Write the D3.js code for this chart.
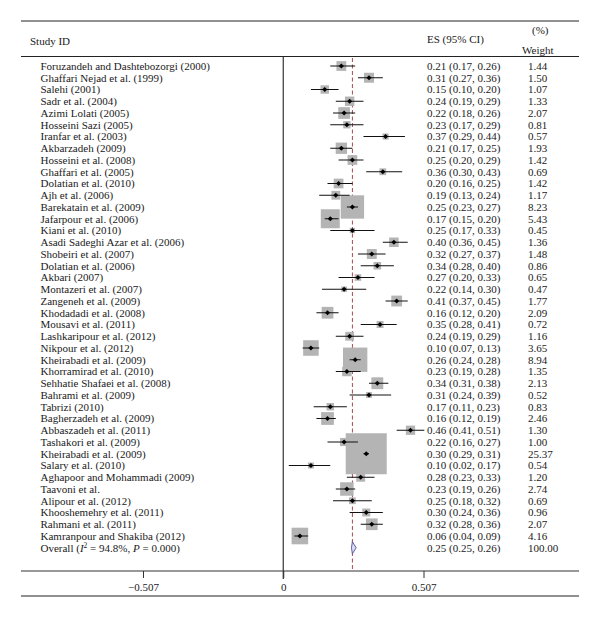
<!DOCTYPE html>
<html>
<head>
<meta charset="utf-8">
<script src="https://cdn.jsdelivr.net/npm/d3@7"></script>
<style>
  body { margin: 0; background: #fff; }
  text { font-family: "Liberation Serif", "DejaVu Serif", serif; fill: #1a1a1a; }
</style>
</head>
<body>
<div id="chart"></div>
<script>
// study rows, top to bottom
var studies = ["Foruzandeh and Dashtebozorgi (2000)", "Ghaffari Nejad et al. (1999)", "Salehi (2001)",
  "Sadr et al. (2004)", "Azimi Lolati (2005)", "Hosseini Sazi (2005)", "Iranfar et al. (2003)",
  "Akbarzadeh (2009)", "Hosseini et al. (2008)", "Ghaffari et al. (2005)", "Dolatian et al. (2010)",
  "Ajh et al. (2006)", "Barekatain et al. (2009)", "Jafarpour et al. (2006)", "Kiani et al. (2010)",
  "Asadi Sadeghi Azar et al. (2006)", "Shobeiri et al. (2007)", "Dolatian et al. (2006)", "Akbari (2007)",
  "Montazeri et al. (2007)", "Zangeneh et al. (2009)", "Khodadadi et al. (2008)", "Mousavi et al. (2011)",
  "Lashkaripour et al. (2012)", "Nikpour et al. (2012)", "Kheirabadi et al. (2009)", "Khorramirad et al. (2010)",
  "Sehhatie Shafaei et al. (2008)", "Bahrami et al. (2009)", "Tabrizi (2010)", "Bagherzadeh et al. (2009)",
  "Abbaszadeh et al. (2011)", "Tashakori et al. (2009)", "Kheirabadi et al. (2009)", "Salary et al. (2010)",
  "Aghapoor and Mohammadi (2009)", "Taavoni et al.", "Alipour et al. (2012)", "Khooshemehry et al. (2011)",
  "Rahmani et al. (2011)", "Kamranpour and Shakiba (2012)"];
var es = [0.21, 0.31, 0.15, 0.24, 0.22, 0.23, 0.37, 0.21, 0.25, 0.36, 0.20, 0.19, 0.25, 0.17, 0.25, 0.40, 0.32,
  0.34, 0.27, 0.22, 0.41, 0.16, 0.35, 0.24, 0.10, 0.26, 0.23, 0.34, 0.31, 0.17, 0.16, 0.46, 0.22, 0.30, 0.10,
  0.28, 0.23, 0.25, 0.30, 0.32, 0.06];
var lower = [0.17, 0.27, 0.10, 0.19, 0.18, 0.17, 0.29, 0.17, 0.20, 0.30, 0.16, 0.13, 0.23, 0.15, 0.17, 0.36, 0.27,
  0.28, 0.20, 0.14, 0.37, 0.12, 0.28, 0.19, 0.07, 0.24, 0.19, 0.31, 0.24, 0.11, 0.12, 0.41, 0.16, 0.29, 0.02,
  0.23, 0.19, 0.18, 0.24, 0.28, 0.04];
var upper = [0.26, 0.36, 0.20, 0.29, 0.26, 0.29, 0.44, 0.25, 0.29, 0.43, 0.25, 0.24, 0.27, 0.20, 0.33, 0.45, 0.37,
  0.40, 0.33, 0.30, 0.45, 0.20, 0.41, 0.29, 0.13, 0.28, 0.28, 0.38, 0.39, 0.23, 0.19, 0.51, 0.27, 0.31, 0.17,
  0.33, 0.26, 0.32, 0.36, 0.36, 0.09];
var weights = [1.44, 1.50, 1.07, 1.33, 2.07, 0.81, 0.57, 1.93, 1.42, 0.69, 1.42, 1.17, 8.23, 5.43, 0.45, 1.36, 1.48,
  0.86, 0.65, 0.47, 1.77, 2.09, 0.72, 1.16, 3.65, 8.94, 1.35, 2.13, 0.52, 0.83, 2.46, 1.30, 1.00, 25.37, 0.54,
  1.20, 2.74, 0.69, 0.96, 2.07, 4.16];
var overall = { es: 0.25, lower: 0.25, upper: 0.26, weight: 100.00 };
var xTicks = [-0.507, 0, 0.507];

var width = 600, height = 617;
var left = 21, right = 579;

var svg = d3.select("#chart").append("svg")
  .attr("width", width)
  .attr("height", height);

var x = d3.scaleLinear().domain([-0.507, 0.507]).range([143, 423.5]);
var y = d3.scaleLinear().domain([0, studies.length]).range([66, 547.75]);
var side = d3.scaleSqrt().domain([0, 25.37]).range([0, 41]);
var f2 = d3.format(".2f");

var rows = studies.map(function (s, i) {
  return { name: s, es: es[i], lo: lower[i], hi: upper[i], w: weights[i], i: i };
});

// header
svg.append("line").attr("x1", left).attr("x2", right).attr("y1", 21).attr("y2", 21)
  .attr("stroke", "#222").attr("stroke-width", 1.2);
svg.append("line").attr("x1", left).attr("x2", right).attr("y1", 56.5).attr("y2", 56.5)
  .attr("stroke", "#222").attr("stroke-width", 1);
svg.append("text").attr("x", 30).attr("y", 45).attr("font-size", 11).text("Study ID");
svg.append("text").attr("x", 427).attr("y", 43).attr("font-size", 11).text("ES (95% CI)");
svg.append("text").attr("x", 532).attr("y", 34).attr("font-size", 11).text("(%)");
svg.append("text").attr("x", 522).attr("y", 54).attr("font-size", 11).text("Weight");

// reference lines
svg.append("line").attr("x1", x(0)).attr("x2", x(0)).attr("y1", 56.5).attr("y2", 579)
  .attr("stroke", "#333").attr("stroke-width", 1.2);
svg.append("line").attr("x1", x(overall.es)).attr("x2", x(overall.es)).attr("y1", 58).attr("y2", 571)
  .attr("stroke", "#a3313c").attr("stroke-width", 0.9).attr("stroke-dasharray", "4,2.5");

// boxes, CI and points
var g = svg.append("g");
g.selectAll(".box").data(rows).enter().append("rect")
  .attr("class", "box")
  .attr("x", function (d) { return x(d.es) - side(d.w) / 2; })
  .attr("y", function (d) { return y(d.i) - side(d.w) / 2; })
  .attr("width", function (d) { return side(d.w); })
  .attr("height", function (d) { return side(d.w); })
  .attr("fill", "#b4b4b4");

g.selectAll(".ci").data(rows).enter().append("line")
  .attr("class", "ci")
  .attr("x1", function (d) { return x(d.lo); })
  .attr("x2", function (d) { return x(d.hi); })
  .attr("y1", function (d) { return y(d.i); })
  .attr("y2", function (d) { return y(d.i); })
  .attr("stroke", "#111").attr("stroke-width", 1);

g.selectAll(".pt").data(rows).enter().append("path")
  .attr("class", "pt")
  .attr("transform", function (d) { return "translate(" + x(d.es) + "," + y(d.i) + ") rotate(45)"; })
  .attr("d", d3.symbol(d3.symbolSquare, 13))
  .attr("fill", "#000");

// overall diamond
var oy = y(studies.length);
svg.append("path")
  .attr("d", "M" + (x(overall.lower) - 1) + "," + oy + "L" + x(overall.es) + "," + (oy - 6) +
    "L" + (x(overall.upper) + 1) + "," + oy + "L" + x(overall.es) + "," + (oy + 6) + "Z")
  .attr("fill", "#dcdcf0").attr("stroke", "#5050a0").attr("stroke-width", 0.9);

// text columns
var t = svg.append("g").attr("font-size", 11);
t.selectAll(".name").data(rows).enter().append("text")
  .attr("x", 40.5).attr("y", function (d) { return y(d.i) + 3.8; })
  .text(function (d) { return d.name; });
t.selectAll(".es").data(rows).enter().append("text")
  .attr("x", 427).attr("y", function (d) { return y(d.i) + 3.8; })
  .text(function (d) { return f2(d.es) + " (" + f2(d.lo) + ", " + f2(d.hi) + ")"; });
t.selectAll(".wt").data(rows).enter().append("text")
  .attr("x", 528).attr("y", function (d) { return y(d.i) + 3.8; })
  .text(function (d) { return f2(d.w); });

var ol = t.append("text").attr("x", 40.5).attr("y", oy + 3.8);
ol.append("tspan").text("Overall (");
ol.append("tspan").attr("font-style", "italic").text("I");
ol.append("tspan").attr("font-size", 7.5).attr("dy", -4).text("2");
ol.append("tspan").attr("dy", 4).text(" = 94.8%, ");
ol.append("tspan").attr("font-style", "italic").text("P");
ol.append("tspan").text(" = 0.000)");
t.append("text").attr("x", 427).attr("y", oy + 3.8)
  .text(f2(overall.es) + " (" + f2(overall.lower) + ", " + f2(overall.upper) + ")");
t.append("text").attr("x", 528).attr("y", oy + 3.8).text(f2(overall.weight));

// bottom axis
svg.append("line").attr("x1", left).attr("x2", right).attr("y1", 571).attr("y2", 571)
  .attr("stroke", "#333").attr("stroke-width", 1);
var axis = svg.append("g").attr("transform", "translate(0,571)")
  .call(d3.axisBottom(x).tickValues(xTicks).tickSize(7).tickFormat(function (d) {
    return d === 0 ? "0" : (d < 0 ? "\u2212" : "") + Math.abs(d).toFixed(3);
  }));
axis.select(".domain").remove();
axis.selectAll("line").attr("stroke", "#333").attr("stroke-width", 1);
axis.selectAll("text").attr("font-size", 11).attr("font-family", "Liberation Serif, serif")
  .attr("fill", "#1a1a1a").attr("dy", "0.9em");
svg.append("line").attr("x1", left).attr("x2", right).attr("y1", 596).attr("y2", 596)
  .attr("stroke", "#222").attr("stroke-width", 1.2);
</script>
</body>
</html>
